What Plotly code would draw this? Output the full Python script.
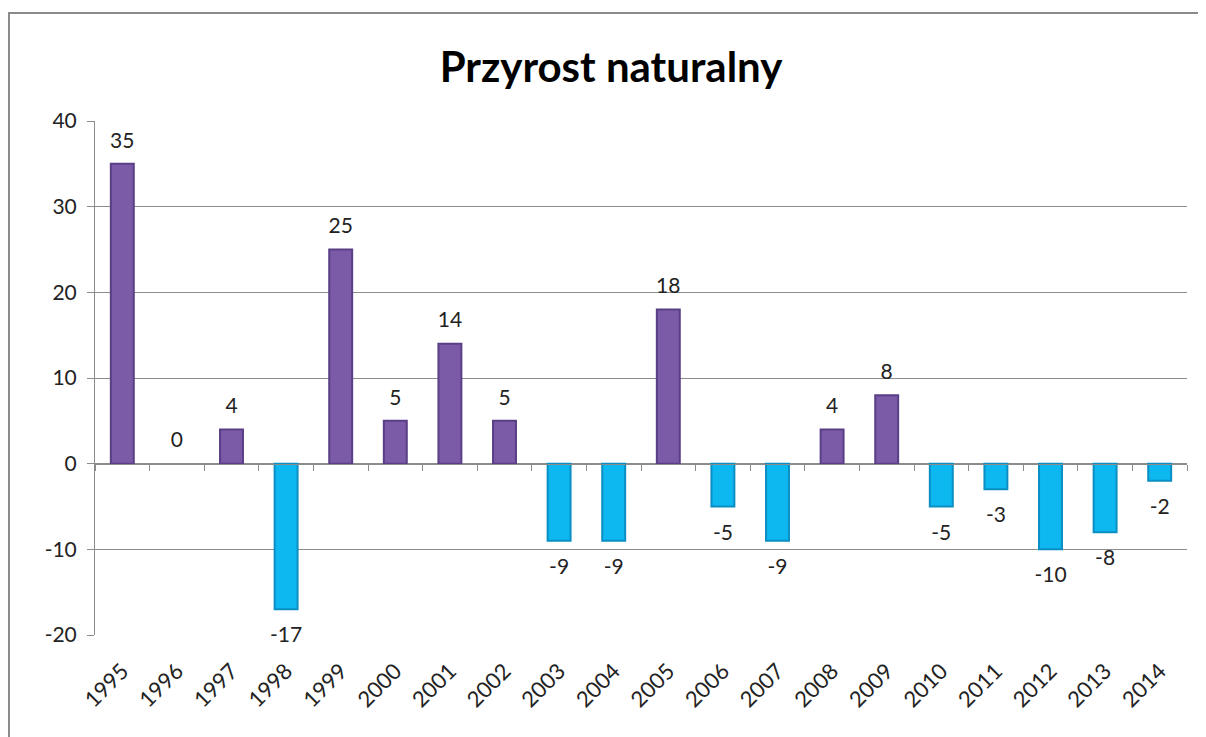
import plotly.graph_objects as go

years = [str(y) for y in range(1995, 2015)]
values = [35, 0, 4, -17, 25, 5, 14, 5, -9, -9, 18, -5, -9, 4, 8, -5, -3, -10, -8, -2]
y_ticks = [-20, -10, 0, 10, 20, 30, 40]
y_tick_labels = ["-20", "-10", "0", "10", "20", "30", "40"]

POS_FILL = "#7b5aa8"
POS_EDGE = "#5a3f86"
NEG_FILL = "#0cb8ef"
NEG_EDGE = "#0a8ec4"
GRID = "#8c8c8c"
FONT = "Lato"

fill = [POS_FILL if v >= 0 else NEG_FILL for v in values]
edge = [POS_EDGE if v >= 0 else NEG_EDGE for v in values]
line_w = [2 if v != 0 else 0 for v in values]

fig = go.Figure()

fig.add_trace(go.Bar(
    x=years, y=values,
    marker=dict(color=fill, line=dict(color=edge, width=line_w)),
    width=0.42,
    hoverinfo="x+y",
    showlegend=False,
))

# data labels: above non-negative bars, below negative ones
pos_x = [x for x, v in zip(years, values) if v >= 0]
pos_y = [v for v in values if v >= 0]
neg_x = [x for x, v in zip(years, values) if v < 0]
neg_y = [v for v in values if v < 0]

label_font = dict(family=FONT, size=21, color="#222222")
fig.add_trace(go.Scatter(
    x=pos_x, y=pos_y, text=[str(v) for v in pos_y],
    mode="markers+text", textposition="top center",
    marker=dict(size=16, opacity=0), textfont=label_font,
    hoverinfo="skip", showlegend=False, cliponaxis=False,
))
fig.add_trace(go.Scatter(
    x=neg_x, y=neg_y, text=[str(v) for v in neg_y],
    mode="markers+text", textposition="bottom center",
    marker=dict(size=26, opacity=0), textfont=label_font,
    hoverinfo="skip", showlegend=False, cliponaxis=False,
))

# category axis line with tick marks drawn at zero
fig.add_trace(go.Scatter(
    x=years, y=values, xaxis="x2", mode="markers",
    marker=dict(opacity=0), hoverinfo="skip", showlegend=False,
))

fig.update_layout(
    width=1206, height=737,
    margin=dict(l=87, r=27, t=113, b=110),
    paper_bgcolor="white", plot_bgcolor="white",
    font=dict(family=FONT, size=21, color="#222222"),
    title=dict(text="<b>Przyrost naturalny</b>", x=0.5, xref="container",
               xanchor="center", y=0.919, yanchor="middle",
               font=dict(size=42, color="black")),
    bargap=0.58,
    xaxis=dict(
        type="category", range=[-0.5, 19.5], tickangle=-45,
        showgrid=False, showline=False, ticks="", zeroline=False,
        tickfont=dict(size=22), ticklabelstandoff=18,
    ),
    xaxis2=dict(
        type="category", range=[-0.5, 19.5], overlaying="x",
        anchor="free", position=1 / 3, side="bottom",
        showline=True, linecolor=GRID, linewidth=1,
        ticks="outside", ticklen=6, tickcolor=GRID, tickson="boundaries",
        showticklabels=False, showgrid=False, zeroline=False,
    ),
    yaxis=dict(
        range=[-20, 40], tickvals=y_ticks, ticktext=y_tick_labels,
        showgrid=True, gridcolor=GRID, gridwidth=1,
        zeroline=False, showline=True, linecolor=GRID, linewidth=1,
        ticks="outside", ticklen=7, tickcolor=GRID, tickfont=dict(size=21),
        ticklabelstandoff=6,
    ),
    shapes=[dict(
        type="rect", xref="paper", yref="paper",
        x0=-0.0788, x1=1.2, y0=-0.4, y1=1.21,
        line=dict(color="#8a8a8a", width=2), fillcolor="rgba(0,0,0,0)",
        layer="below",
    )],
)

fig.write_html("out.html")
